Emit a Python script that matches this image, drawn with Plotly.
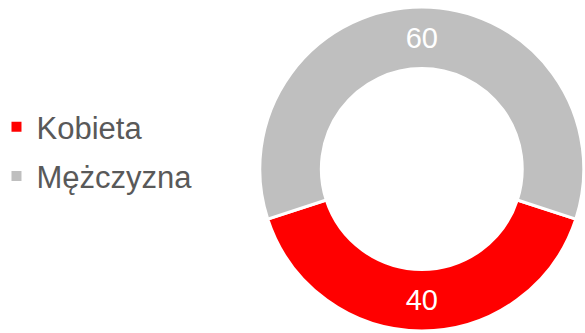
import plotly.graph_objects as go

# Gender split (percent)
labels = ["Kobieta", "Mężczyzna"]
values = [40, 60]
colors = ["#FF0000", "#BFBFBF"]

FONT = "Liberation Sans, Arial, sans-serif"

fig = go.Figure()

fig.add_trace(
    go.Pie(
        labels=labels,
        values=values,
        text=[str(v) for v in values],
        textinfo="text",
        textposition="inside",
        insidetextorientation="horizontal",
        textfont=dict(family=FONT, size=29, color="white"),
        marker=dict(colors=colors, line=dict(color="white", width=3)),
        hole=0.62,
        sort=False,
        direction="clockwise",
        rotation=108,
        domain=dict(x=[0.444, 0.998], y=[0.006, 0.979]),
        hoverinfo="label+value",
        showlegend=False,
    )
)

# Legend entries (one group per category so the rows can be spaced apart)
for name, color in zip(labels, colors):
    fig.add_trace(
        go.Scatter(
            x=[None],
            y=[None],
            mode="markers",
            name=name,
            legendgroup=name,
            marker=dict(symbol="square", size=10, color=color),
            hoverinfo="skip",
        )
    )

fig.update_layout(
    width=585,
    height=333,
    margin=dict(l=0, r=0, t=0, b=0, autoexpand=False),
    paper_bgcolor="white",
    plot_bgcolor="white",
    xaxis=dict(visible=False),
    yaxis=dict(visible=False),
    showlegend=True,
    legend=dict(
        x=-0.006,
        y=0.545,
        xanchor="left",
        yanchor="middle",
        traceorder="grouped",
        tracegroupgap=6,
        font=dict(family=FONT, size=31, color="#595959"),
        bgcolor="rgba(0,0,0,0)",
    ),
)

fig.write_html("out.html")
